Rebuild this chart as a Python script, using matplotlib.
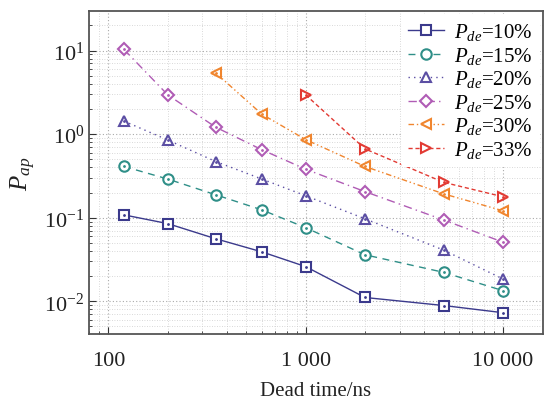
import matplotlib
matplotlib.use("Agg")
import matplotlib.pyplot as plt
from matplotlib.ticker import FixedLocator, FixedFormatter, LogLocator, NullFormatter

plt.rcParams['font.family'] = ['Liberation Serif', 'DejaVu Serif']
plt.rcParams['mathtext.fontset'] = 'custom'
plt.rcParams['mathtext.rm'] = 'Liberation Serif'
plt.rcParams['mathtext.it'] = 'Liberation Serif:italic'

x_all = [120, 200, 350, 600, 1000, 2000, 5000, 10000]
x_30 = [350, 600, 1000, 2000, 5000, 10000]
x_33 = [1000, 2000, 5000, 10000]

p10 = [0.108, 0.085, 0.056, 0.039, 0.026, 0.0111, 0.0089, 0.0073]
p15 = [0.41, 0.29, 0.188, 0.124, 0.076, 0.036, 0.0222, 0.0134]
p20 = [1.43, 0.85, 0.47, 0.29, 0.183, 0.097, 0.041, 0.0185]
p25 = [10.3, 2.95, 1.21, 0.65, 0.38, 0.205, 0.094, 0.051]
p30 = [5.4, 1.73, 0.86, 0.41, 0.193, 0.121]
p33 = [2.95, 0.665, 0.265, 0.178]

labels = ['10%', '15%', '20%', '25%', '30%', '33%']
xtick_vals = [100, 1000, 10000]
xtick_labels = ['100', '1 000', '10 000']

series = [
    (x_all, p10, '#3b3a8c', 's', '-'),
    (x_all, p15, '#2f8f88', 'o', (0, (5, 4))),
    (x_all, p20, '#5b4ea3', '^', (0, (1, 3))),
    (x_all, p25, '#b05cb5', 'D', (0, (6, 3, 1, 3))),
    (x_30, p30, '#f0852e', '<', (0, (4, 2, 1, 2, 1, 2))),
    (x_33, p33, '#e23a33', '>', (0, (3, 2))),
]

fig = plt.figure(figsize=(5.46, 4.02), dpi=100)
ax = fig.add_axes([89/546, 67/402, 454/546, 323/402])

for (xs, ys, c, m, ls), lab in zip(series, labels):
    ms = 6.5 if m == 'D' else 7.5
    ax.plot(xs, ys, color=c, linestyle=ls, linewidth=1.0, marker=m,
            markersize=ms, markerfacecolor='white', markeredgewidth=1.5,
            label=r'$P_{de}$=' + lab)
    ax.plot(xs, ys, linestyle='none', marker='.', markersize=2, color=c)

ax.set_xscale('log')
ax.set_yscale('log')
ax.set_xlim(79.8, 15960)
ax.set_ylim(0.00406, 29.7)

ax.xaxis.set_major_locator(FixedLocator(xtick_vals))
ax.xaxis.set_major_formatter(FixedFormatter(xtick_labels))
ax.xaxis.set_minor_locator(LogLocator(base=10, subs=range(2, 10)))
ax.xaxis.set_minor_formatter(NullFormatter())
ax.yaxis.set_major_locator(LogLocator(base=10, numticks=10))
ax.yaxis.set_minor_locator(LogLocator(base=10, subs=range(2, 10), numticks=10))
ax.yaxis.set_minor_formatter(NullFormatter())

ax.tick_params(which='both', direction='in', colors='#333333', labelcolor='#222222', labelsize=16)
ax.tick_params(which='major', length=5, width=0.8)
ax.tick_params(which='minor', length=2.5, width=0.6)
ax.tick_params(axis='x', pad=12)

ax.grid(True, which='major', linestyle=(0, (1, 2)), color='#aaaaaa', linewidth=0.8)
ax.grid(True, which='minor', linestyle=(0, (1, 2)), color='#cccccc', linewidth=0.6)

for sp in ax.spines.values():
    sp.set_color('#555555')
    sp.set_linewidth(1.3)

ax.set_xlabel('Dead time/ns', fontsize=15, color='#222222', labelpad=8)
ax.set_ylabel(r'$P_{ap}$', fontsize=18, color='#222222', labelpad=4)

leg = ax.legend(loc='upper right', fontsize=15, frameon=True, framealpha=1,
                edgecolor='none', borderaxespad=0.15, handlelength=1.7,
                handletextpad=0.5, labelspacing=0.12, borderpad=0.35)
leg.get_frame().set_linewidth(0)

fig.savefig('out.png', dpi=100)
